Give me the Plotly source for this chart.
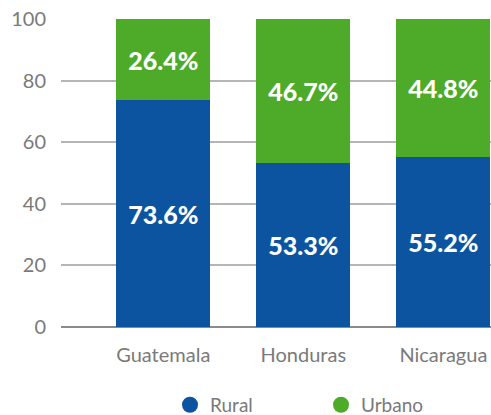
import plotly.graph_objects as go

categories = ["Guatemala", "Honduras", "Nicaragua"]
rural = [73.6, 53.3, 55.2]
urbano = [26.4, 46.7, 44.8]
series_names = ["Rural", "Urbano"]
colors = ["#0c54a0", "#4eaa29"]

fig = go.Figure()
for name, vals, col in zip(series_names, [rural, urbano], colors):
    fig.add_trace(go.Bar(
        x=categories, y=vals, name=name, marker_color=col, marker_line_width=0,
        showlegend=False,
        width=0.67, text=[f"{v:.1f}%" for v in vals], textposition="inside",
        insidetextanchor="middle",
        textfont=dict(family="Lato", size=25, color="white", weight=900),
    ))
for name, col in zip(series_names, colors):
    fig.add_trace(go.Scatter(
        x=[None], y=[None], mode="markers", name=name,
        marker=dict(symbol="circle", size=20, color=col),
    ))

fig.update_layout(
    width=491, height=415, barmode="stack",
    margin=dict(l=61, r=0, t=19, b=88, autoexpand=False),
    paper_bgcolor="white", plot_bgcolor="white",
    font=dict(family="Lato", size=19, color="#7a7a7a"),
    showlegend=True,
    legend=dict(orientation="h", x=0.2535, xanchor="left", y=-0.253, yanchor="middle",
                font=dict(size=19, color="#7a7a7a"), itemwidth=30, traceorder="normal",
                entrywidth=106, entrywidthmode="pixels"),
    uniformtext=dict(mode="show", minsize=10),
)
fig.update_xaxes(range=[-0.73, 2.34], showgrid=False, showline=False, ticks="",
                 automargin=False, ticklabelstandoff=14,
                 tickfont=dict(size=20, color="#7a7a7a"))
fig.update_yaxes(range=[0, 100], dtick=20, showgrid=True, gridcolor="#b5b5b5",
                 gridwidth=1.5, zeroline=True, zerolinecolor="#8a8a8a", zerolinewidth=1.5,
                 showline=False, ticks="", ticklabelstandoff=14, automargin=False,
                 tickfont=dict(size=20, color="#7a7a7a"))
fig.write_html("out.html", config={"displayModeBar": False},
               post_script="document.body.style.margin='0';document.body.style.overflow='hidden';")
